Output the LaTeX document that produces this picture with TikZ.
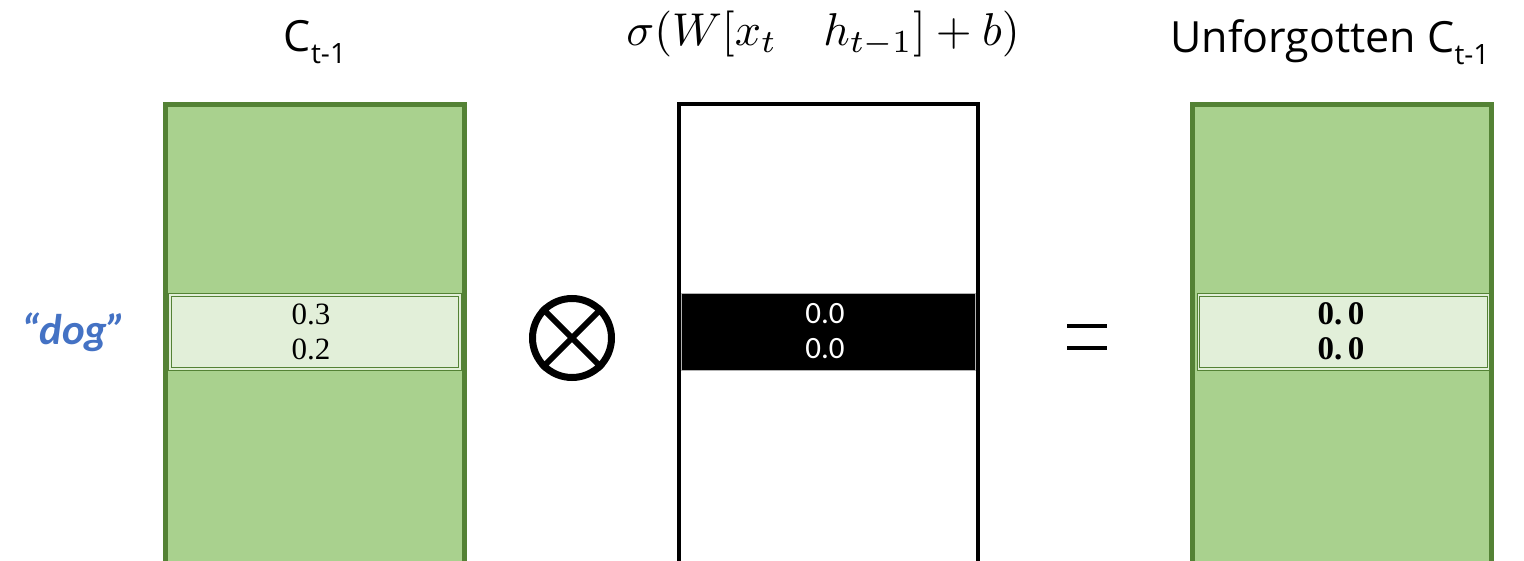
\documentclass[tikz,border=0pt]{standalone}
\usepackage{fontspec}
\setmainfont{Liberation Serif}
\newfontfamily\titlefont{Open Sans}
\newfontfamily\calfont{Carlito}
\definecolor{dkgreen}{HTML}{548235}
\definecolor{midgreen}{HTML}{A9D18E}
\definecolor{ltgreen}{HTML}{E2EFD9}
\definecolor{dogblue}{HTML}{4472C4}
\tikzset{
  greenbox/.style={draw=dkgreen, fill=midgreen, line width=5pt, anchor=north, minimum width=299pt, minimum height=520pt, inner sep=0pt},
  whitebox/.style={draw=black, fill=white, line width=4pt, anchor=north, minimum width=299pt, minimum height=520pt, inner sep=0pt},
  greenrow/.style={draw=dkgreen, fill=ltgreen, line width=1pt, double=ltgreen, double distance=1.6pt, minimum width=290pt, minimum height=74pt, inner sep=0pt},
  blackrow/.style={draw=gray!60, fill=black, line width=1pt, minimum width=294pt, minimum height=77pt, inner sep=0pt},
  valtext/.style={font=\fontsize{31}{32}\selectfont, align=center, inner sep=0pt},
  titletext/.style={font=\titlefont\fontsize{43}{46}\selectfont, inner sep=0pt}
}
\begin{document}
\begin{tikzpicture}[x=1pt,y=-1pt]
\useasboundingbox (0,0) rectangle (1524,561);
\clip (0,0) rectangle (1524,561);
% titles
\node[titletext] (t1) at (315,42) {C\raisebox{-0.28em}{\fontsize{28}{30}\selectfont t-1}};
\node[inner sep=0pt] (t2) at (823,34) {\scalebox{4.6}{$\sigma(W[x_t\quad h_{t-1}]+b)$}};
\node[titletext] (t3) at (1330,42) {Unforgotten C\raisebox{-0.28em}{\fontsize{28}{30}\selectfont t-1}};
% big boxes
\node[greenbox] (b1) at (315,102.5) {};
\node[whitebox] (b2) at (828.5,102) {};
\node[greenbox] (b3) at (1342,102.5) {};
% rows
\node[greenrow] (r1) at (315,332) {};
\node[blackrow] (r2) at (828.5,332) {};
\node[greenrow] (r3) at (1343.5,332) {};
\node[valtext] (v1a) at (311,314) {0.3};
\node[valtext] (v1b) at (311,349) {0.2};
\node[valtext, text=white, font=\calfont\fontsize{31}{32}\selectfont] (v2a) at (825,314) {0.0};
\node[valtext, text=white, font=\calfont\fontsize{31}{32}\selectfont] (v2b) at (825,349) {0.0};
\node[valtext, font=\bfseries\fontsize{33}{34}\selectfont] (v3a) at (1341,314) {0.\,0};
\node[valtext, font=\bfseries\fontsize{33}{34}\selectfont] (v3b) at (1341,349) {0.\,0};
% dog label
\node[inner sep=0pt, text=dogblue, font=\calfont\bfseries\itshape\fontsize{43}{46}\selectfont] (dog) at (74,332) {“dog”};
% otimes
\node[circle, draw=black, line width=7pt, minimum size=79pt, inner sep=0pt] (ot) at (572,338) {};
\draw[line width=6pt] (ot.north west) -- (ot.south east);
\draw[line width=6pt] (ot.north east) -- (ot.south west);
% equals
\coordinate (e1) at (1067,326);
\coordinate (e2) at (1107,326);
\coordinate (e3) at (1067,348);
\coordinate (e4) at (1107,348);
\draw[line width=4.5pt] (e1) -- (e2);
\draw[line width=4.5pt] (e3) -- (e4);
\end{tikzpicture}
\end{document}
